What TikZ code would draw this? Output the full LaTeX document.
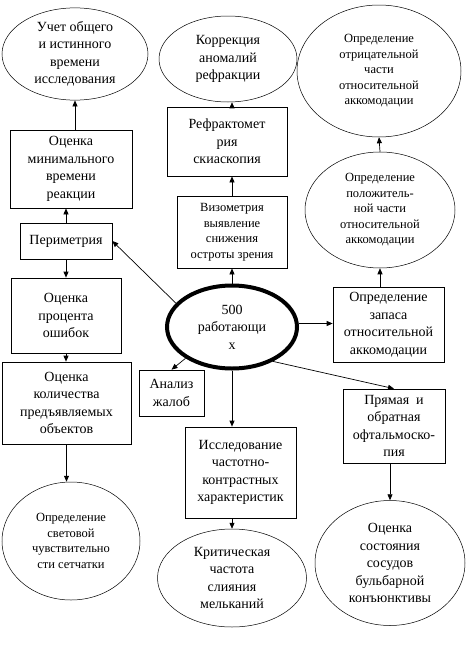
\documentclass[tikz,border=0pt]{standalone}
\usepackage{fontspec}
\setmainfont{Liberation Serif}
\usetikzlibrary{arrows.meta, shapes.geometric}
\newcommand{\bigtxt}{\fontsize{14}{17.5}\selectfont}
\newcommand{\smalltxt}{\fontsize{12.5}{15.5}\selectfont}
\tikzset{
  planBox/.style={draw, line width=0.7pt, align=center, inner sep=0pt, font=\bigtxt},
  smallBox/.style={planBox, font=\smalltxt},
  planOval/.style={ellipse, draw, line width=0.5pt, align=center, inner sep=0pt, font=\bigtxt},
  smallOval/.style={planOval, font=\smalltxt},
  mainOval/.style={planOval, line width=4pt},
  planFlow/.style={-{Triangle[length=6pt,width=5pt]}, line width=0.7pt}
}

\begin{document}
\begin{tikzpicture}[x=1pt, y=-1pt]
  \useasboundingbox (0,0) rectangle (473,648);

  % centre
  \node[mainOval, minimum width=130pt, minimum height=83pt] (staff) at (232,327) {500\\работающи\\х};

  % left column
  \node[planOval, minimum width=146pt, minimum height=92pt] (uchet) at (75,54) {Учет общего\\и истинного\\времени\\исследования};
  \node[planBox, minimum width=122pt, minimum height=78pt] (ocmin) at (71,169) {Оценка\\минимального\\времени\\реакции};
  \node[planBox, minimum width=92pt, minimum height=36pt] (perim) at (66,241) {Периметрия};
  \node[planBox, minimum width=110pt, minimum height=75pt] (proc) at (66,315.5) {Оценка\\процента\\ошибок};
  \node[planBox, minimum width=129pt, minimum height=82pt] (kol) at (66.5,403) {Оценка\\количества\\предъявляемых\\объектов};
  \node[smallOval, minimum width=138pt, minimum height=118pt] (svet) at (71,541) {Определение\\световой\\чувствительно\\сти сетчатки};

  % middle column
  \node[planOval, minimum width=138pt, minimum height=86pt] (korr) at (228,59) {Коррекция\\аномалий\\рефракции};
  \node[planBox, minimum width=120pt, minimum height=69pt] (refr) at (227,141.5) {Рефрактомет\\рия\\скиаскопия};
  \node[smallBox, minimum width=110pt, minimum height=72pt] (vizo) at (232,232) {Визометрия\\выявление\\снижения\\остроты зрения};
  \node[planBox, minimum width=65pt, minimum height=46pt] (anal) at (171.5,393) {Анализ\\жалоб};
  \node[planBox, minimum width=111pt, minimum height=91pt] (issl) at (240.5,472.5) {Исследование\\частотно-\\контрастных\\характеристик};
  \node[planOval, minimum width=149pt, minimum height=98pt] (krit) at (232,578) {Критическая\\частота\\слияния\\мельканий};

  % right column
  \node[smallOval, minimum width=164pt, minimum height=132pt] (otr) at (379,71) {Определение\\отрицательной\\части\\относительной\\аккомодации};
  \node[smallOval, minimum width=150pt, minimum height=116pt] (pol) at (380,210) {Определение\\положитель-\\ной части\\относительной\\аккомодации};
  \node[planBox, minimum width=111pt, minimum height=75pt] (zapas) at (388.5,324.5) {Определение\\запаса\\относительной\\аккомодации};
  \node[planBox, minimum width=102pt, minimum height=74pt] (pryam) at (394,426) {Прямая\ \ и\\обратная\\офтальмоско-\\пия};
  \node[planOval, minimum width=150pt, minimum height=125pt] (sosud) at (390,563) {Оценка\\состояния\\сосудов\\бульбарной\\конъюнктивы};

  % arrows out of the centre
  \draw[planFlow] (staff.north) -- (vizo.south);
  \draw[planFlow] (staff.3) -- (staff.3 -| zapas.west);
  \draw[planFlow] (staff.157) -- (perim.east);
  \draw[planFlow] (staff.214) -- (anal.north);
  \draw[planFlow] (staff.south) -- (staff.south |- issl.north);
  \draw[planFlow] (staff.-40) -- (pryam.north);

  % chains
  \draw[planFlow] (perim.north) -- (perim.north |- ocmin.south);
  \draw[planFlow] (ocmin.north -| uchet) -- (uchet.south);
  \draw[planFlow] (perim.south) -- (perim.south |- proc.north);
  \draw[planFlow] (proc.south) -- (proc.south |- kol.north);
  \draw[planFlow] (kol.south) -- (kol.south |- svet.north);
  \draw[planFlow] (vizo.north) -- (vizo.north |- refr.south);
  \draw[planFlow] (refr.north -| vizo) -- (korr.south -| vizo);
  \draw[planFlow] (zapas.north -| pol) -- (pol.south);
  \draw[planFlow] (pol.north) -- (otr.south);
  \draw[planFlow] (issl.south -| krit) -- (krit.north);
  \draw[planFlow] (pryam.south -| sosud) -- (sosud.north);
\end{tikzpicture}
\end{document}
